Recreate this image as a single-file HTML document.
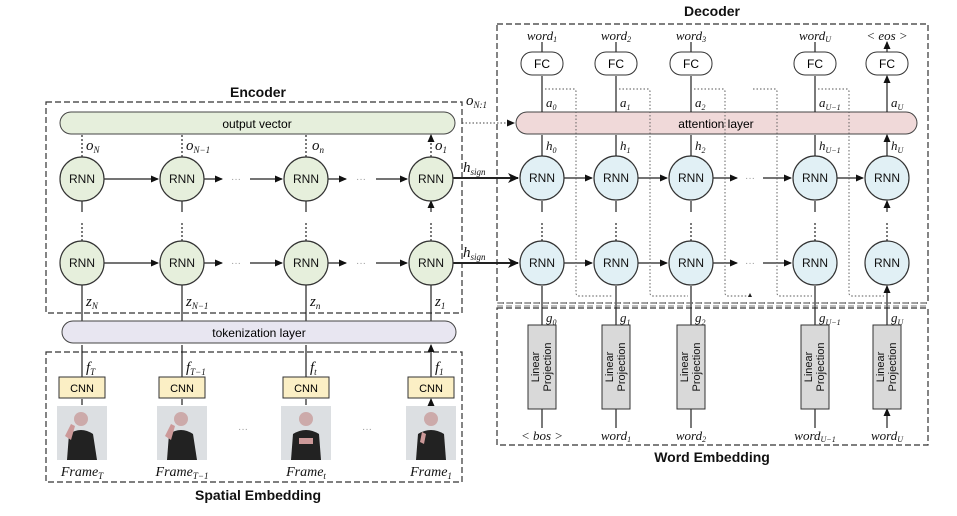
<!DOCTYPE html>
<html><head><meta charset="utf-8"><style>body{margin:0;background:#fff}</style></head><body>
<svg width="957" height="511" viewBox="0 0 957 511" xmlns="http://www.w3.org/2000/svg" font-family="Liberation Sans, sans-serif">
<defs>
<marker id="a" markerWidth="8" markerHeight="8" refX="7" refY="4" orient="auto" markerUnits="userSpaceOnUse"><path d="M0,0.5 L8,4 L0,7.5z" fill="#111"/></marker>
<marker id="b" markerWidth="12" markerHeight="12" refX="10" refY="6" orient="auto" markerUnits="userSpaceOnUse"><path d="M0,1 L11,6 L0,11 L3,6z" fill="#111"/></marker>
</defs>
<g fill="none" stroke="#333" stroke-dasharray="6,3" stroke-width="1.2">
<rect x="46" y="102" width="416" height="211"/>
<rect x="46" y="352" width="416" height="130"/>
<rect x="497" y="24" width="431" height="279"/>
<rect x="497" y="308" width="431" height="137"/>
</g>
<g font-weight="bold" font-size="14" text-anchor="middle" fill="#111">
<text x="258" y="97">Encoder</text><text x="712" y="16">Decoder</text>
<text x="712" y="462">Word Embedding</text><text x="258" y="500">Spatial Embedding</text>
</g>
<g stroke="#222" stroke-width="1.2">
<line x1="104" y1="179" x2="158" y2="179" marker-end="url(#a)"/>
<line x1="204" y1="179" x2="222" y2="179" marker-end="url(#a)"/>
<line x1="250" y1="179" x2="282" y2="179" marker-end="url(#a)"/>
<line x1="328" y1="179" x2="346" y2="179" marker-end="url(#a)"/>
<line x1="376" y1="179" x2="407" y2="179" marker-end="url(#a)"/>
<line x1="104" y1="263" x2="158" y2="263" marker-end="url(#a)"/>
<line x1="204" y1="263" x2="222" y2="263" marker-end="url(#a)"/>
<line x1="250" y1="263" x2="282" y2="263" marker-end="url(#a)"/>
<line x1="328" y1="263" x2="346" y2="263" marker-end="url(#a)"/>
<line x1="376" y1="263" x2="407" y2="263" marker-end="url(#a)"/>
<line x1="564" y1="178" x2="592" y2="178" marker-end="url(#a)"/>
<line x1="638" y1="178" x2="667" y2="178" marker-end="url(#a)"/>
<line x1="713" y1="178" x2="737" y2="178" marker-end="url(#a)"/>
<line x1="763" y1="178" x2="791" y2="178" marker-end="url(#a)"/>
<line x1="837" y1="178" x2="863" y2="178" marker-end="url(#a)"/>
<line x1="564" y1="263" x2="592" y2="263" marker-end="url(#a)"/>
<line x1="638" y1="263" x2="667" y2="263" marker-end="url(#a)"/>
<line x1="713" y1="263" x2="737" y2="263" marker-end="url(#a)"/>
<line x1="763" y1="263" x2="791" y2="263" marker-end="url(#a)"/>
<line x1="453" y1="178" x2="518" y2="178" stroke-width="2" marker-end="url(#b)"/>
<line x1="453" y1="263" x2="518" y2="263" stroke-width="2" marker-end="url(#b)"/>
</g>
<g font-size="10" fill="#999" text-anchor="middle"><text x="236" y="182">···</text><text x="361" y="182">···</text><text x="236" y="266">···</text><text x="361" y="266">···</text><text x="750" y="181">···</text><text x="750" y="266">···</text><text x="243" y="432">···</text><text x="367" y="432">···</text></g>
<g stroke="#222" stroke-width="1.2">
<path d="M82,321 V242 M182,321 V242 M306,321 V242 M431,321 V242" marker-end="url(#a)"/>
<path d="M82,377 V345 M182,377 V345 M306,377 V345 M431,377 V345" marker-end="url(#a)"/>
<path d="M82,405 V399 M182,405 V399 M306,405 V399 M431,405 V399" marker-end="url(#a)"/>
<path d="M82,241 V223 M182,241 V223 M306,241 V223 M431,241 V223" stroke-dasharray="2,2"/>
<path d="M82,212 V201 M182,212 V201 M306,212 V201 M431,212 V201" marker-end="url(#a)"/>
<path d="M82,157 V135 M182,157 V135 M306,157 V135 M431,157 V135" stroke-dasharray="2,2" marker-end="url(#a)"/>
</g>
<rect x="60" y="112" width="395" height="22" rx="11" fill="#e6efdc" stroke="#444"/>
<text x="257" y="128" font-size="12" text-anchor="middle">output vector</text>
<rect x="62" y="321" width="394" height="22" rx="11" fill="#e8e6f1" stroke="#444"/>
<text x="259" y="337" font-size="12" text-anchor="middle">tokenization layer</text>
<rect x="516" y="112" width="401" height="22" rx="11" fill="#f0d9d9" stroke="#444"/>
<text x="716" y="128" font-size="12" text-anchor="middle">attention layer</text>
<g fill="#e6efdc" stroke="#333" stroke-width="1.2">
<circle cx="82" cy="179" r="22"/><circle cx="182" cy="179" r="22"/><circle cx="306" cy="179" r="22"/><circle cx="431" cy="179" r="22"/>
<circle cx="82" cy="263" r="22"/><circle cx="182" cy="263" r="22"/><circle cx="306" cy="263" r="22"/><circle cx="431" cy="263" r="22"/>
</g>
<g fill="#e1f0f5" stroke="#333" stroke-width="1.2">
<circle cx="542" cy="178" r="22"/><circle cx="616" cy="178" r="22"/><circle cx="691" cy="178" r="22"/><circle cx="815" cy="178" r="22"/><circle cx="887" cy="178" r="22"/>
<circle cx="542" cy="263" r="22"/><circle cx="616" cy="263" r="22"/><circle cx="691" cy="263" r="22"/><circle cx="815" cy="263" r="22"/><circle cx="887" cy="263" r="22"/>
</g>
<g font-size="12" text-anchor="middle" fill="#111">
<text x="82" y="183">RNN</text><text x="182" y="183">RNN</text><text x="306" y="183">RNN</text><text x="431" y="183">RNN</text>
<text x="82" y="267">RNN</text><text x="182" y="267">RNN</text><text x="306" y="267">RNN</text><text x="431" y="267">RNN</text>
<text x="542" y="182">RNN</text><text x="616" y="182">RNN</text><text x="691" y="182">RNN</text><text x="815" y="182">RNN</text><text x="887" y="182">RNN</text>
<text x="542" y="267">RNN</text><text x="616" y="267">RNN</text><text x="691" y="267">RNN</text><text x="815" y="267">RNN</text><text x="887" y="267">RNN</text>
</g>
<g fill="#fbefc5" stroke="#333"><rect x="59" y="377" width="46" height="21"/><rect x="159" y="377" width="46" height="21"/><rect x="283" y="377" width="46" height="21"/><rect x="408" y="377" width="46" height="21"/></g>
<g font-size="11" text-anchor="middle"><text x="82" y="392">CNN</text><text x="182" y="392">CNN</text><text x="306" y="392">CNN</text><text x="431" y="392">CNN</text></g>
<g>
<g transform="translate(57,406)"><rect width="50" height="54" fill="#dcdfe2"/><circle cx="24" cy="13" r="7" fill="#caa"/><path d="M10,54 L12,28 Q24,20 36,28 L40,54z" fill="#222"/><path d="M8,30 L14,18 L18,20 L14,34z" fill="#c99"/></g>
<g transform="translate(157,406)"><rect width="50" height="54" fill="#dcdfe2"/><circle cx="24" cy="13" r="7" fill="#caa"/><path d="M10,54 L12,28 Q24,20 36,28 L40,54z" fill="#222"/><path d="M8,30 L14,18 L18,20 L14,34z" fill="#c99"/></g>
<g transform="translate(281,406)"><rect width="50" height="54" fill="#dcdfe2"/><circle cx="25" cy="13" r="7" fill="#caa"/><path d="M10,54 L12,28 Q25,20 38,28 L40,54z" fill="#222"/><rect x="18" y="32" width="14" height="6" fill="#c99"/></g>
<g transform="translate(406,406)"><rect width="50" height="54" fill="#dcdfe2"/><circle cx="25" cy="13" r="7" fill="#caa"/><path d="M10,54 L12,28 Q25,20 38,28 L40,54z" fill="#222"/><path d="M14,36 L16,26 L20,28 L18,38z" fill="#c99"/></g>
</g>
<g font-family="Liberation Serif, serif" font-style="italic" font-size="14" text-anchor="middle" fill="#111">
<text x="82" y="476">Frame<tspan font-size="9" dy="3">T</tspan></text>
<text x="182" y="476">Frame<tspan font-size="9" dy="3">T−1</tspan></text>
<text x="306" y="476">Frame<tspan font-size="9" dy="3">t</tspan></text>
<text x="431" y="476">Frame<tspan font-size="9" dy="3">1</tspan></text>
</g>
<g font-family="Liberation Serif, serif" font-style="italic" font-size="15" fill="#111">
<text x="86" y="372">f<tspan font-size="9" dy="3">T</tspan></text>
<text x="186" y="372">f<tspan font-size="9" dy="3">T−1</tspan></text>
<text x="310" y="372">f<tspan font-size="9" dy="3">t</tspan></text>
<text x="435" y="372">f<tspan font-size="9" dy="3">1</tspan></text>
<text x="86" y="306">z<tspan font-size="9" dy="3">N</tspan></text>
<text x="186" y="306">z<tspan font-size="9" dy="3">N−1</tspan></text>
<text x="310" y="306">z<tspan font-size="9" dy="3">n</tspan></text>
<text x="435" y="306">z<tspan font-size="9" dy="3">1</tspan></text>
<text x="86" y="150">o<tspan font-size="9" dy="3">N</tspan></text>
<text x="186" y="150">o<tspan font-size="9" dy="3">N−1</tspan></text>
<text x="312" y="150">o<tspan font-size="9" dy="3">n</tspan></text>
<text x="435" y="150">o<tspan font-size="9" dy="3">1</tspan></text>
<text x="463" y="172">h<tspan font-size="9" dy="3">sign</tspan></text>
<text x="463" y="257">h<tspan font-size="9" dy="3">sign</tspan></text>
<text x="466" y="105">o<tspan font-size="9" dy="3">N:1</tspan></text>
</g>
<line x1="462" y1="123" x2="514" y2="123" stroke="#444" stroke-dasharray="1.5,2" marker-end="url(#a)"/>
<g stroke="#222" stroke-width="1.2">
<path d="M542,156 V135 M616,156 V135 M691,156 V135 M815,156 V135 M887,156 V135" marker-end="url(#a)"/>
<path d="M542,112 V76 M616,112 V76 M691,112 V76 M815,112 V76 M887,112 V76" marker-end="url(#a)"/>
<path d="M542,52 V42 M616,52 V42 M691,52 V42 M815,52 V42 M887,52 V42" marker-end="url(#a)"/>
<path d="M542,241 V223 M616,241 V223 M691,241 V223 M815,241 V223 M887,241 V223" stroke-dasharray="2,2"/>
<path d="M542,212 V201 M616,212 V201 M691,212 V201 M815,212 V201 M887,212 V201" marker-end="url(#a)"/>
<path d="M542,325 V286 M616,325 V286 M691,325 V286 M815,325 V286 M887,325 V286" marker-end="url(#a)"/>
<path d="M542,428 V409 M616,428 V409 M691,428 V409 M815,428 V409 M887,428 V409" marker-end="url(#a)"/>
</g>
<g stroke="#777" stroke-width="0.9" fill="none">
<line x1="497" y1="303" x2="928" y2="303" stroke-dasharray="6,3"/>
<line x1="497" y1="306" x2="928" y2="306" stroke-dasharray="6,3"/>
</g>
<g stroke="#555" stroke-width="0.9" fill="none" stroke-dasharray="1.5,2">
<path d="M545,89 H574 Q576,89 576,92 V293 Q576,296 579,296 H613"/>
<path d="M619,89 H648 Q650,89 650,92 V293 Q650,296 653,296 H688"/>
<path d="M694,89 H723 Q725,89 725,92 V293 Q725,296 728,296 H750"/>
<path d="M753,89 H775 Q777,89 777,92 V293 Q777,296 780,296 H812"/>
<path d="M818,89 H847 Q849,89 849,92 V293 Q849,296 852,296 H884"/>
</g>
<path d="M750,293 l-2,4 h4z" fill="#222"/>
<g fill="#fff" stroke="#333"><rect x="521" y="52" width="42" height="23" rx="11"/><rect x="595" y="52" width="42" height="23" rx="11"/><rect x="670" y="52" width="42" height="23" rx="11"/><rect x="794" y="52" width="42" height="23" rx="11"/><rect x="866" y="52" width="42" height="23" rx="11"/></g>
<g font-size="12" text-anchor="middle"><text x="542" y="68">FC</text><text x="616" y="68">FC</text><text x="691" y="68">FC</text><text x="815" y="68">FC</text><text x="887" y="68">FC</text></g>
<g fill="#d9d9d9" stroke="#333"><rect x="528" y="325" width="28" height="84"/><rect x="602" y="325" width="28" height="84"/><rect x="677" y="325" width="28" height="84"/><rect x="801" y="325" width="28" height="84"/><rect x="873" y="325" width="28" height="84"/></g>
<g font-size="11" text-anchor="middle" fill="#111">
<text transform="translate(542,367) rotate(-90)"><tspan x="0" dy="-3">Linear</tspan><tspan x="0" dy="12">Projection</tspan></text>
<text transform="translate(616,367) rotate(-90)"><tspan x="0" dy="-3">Linear</tspan><tspan x="0" dy="12">Projection</tspan></text>
<text transform="translate(691,367) rotate(-90)"><tspan x="0" dy="-3">Linear</tspan><tspan x="0" dy="12">Projection</tspan></text>
<text transform="translate(815,367) rotate(-90)"><tspan x="0" dy="-3">Linear</tspan><tspan x="0" dy="12">Projection</tspan></text>
<text transform="translate(887,367) rotate(-90)"><tspan x="0" dy="-3">Linear</tspan><tspan x="0" dy="12">Projection</tspan></text>
</g>
<g font-family="Liberation Serif, serif" font-style="italic" font-size="13" fill="#111">
<g text-anchor="middle">
<text x="542" y="40">word<tspan font-size="8" dy="2">1</tspan></text>
<text x="616" y="40">word<tspan font-size="8" dy="2">2</tspan></text>
<text x="691" y="40">word<tspan font-size="8" dy="2">3</tspan></text>
<text x="815" y="40">word<tspan font-size="8" dy="2">U</tspan></text>
<text x="887" y="40">&lt; eos &gt;</text>
<text x="542" y="440">&lt; bos &gt;</text>
<text x="616" y="440">word<tspan font-size="8" dy="2">1</tspan></text>
<text x="691" y="440">word<tspan font-size="8" dy="2">2</tspan></text>
<text x="815" y="440">word<tspan font-size="8" dy="2">U−1</tspan></text>
<text x="887" y="440">word<tspan font-size="8" dy="2">U</tspan></text>
</g>
<text x="546" y="107">a<tspan font-size="8" dy="3">0</tspan></text>
<text x="620" y="107">a<tspan font-size="8" dy="3">1</tspan></text>
<text x="695" y="107">a<tspan font-size="8" dy="3">2</tspan></text>
<text x="819" y="107">a<tspan font-size="8" dy="3">U−1</tspan></text>
<text x="891" y="107">a<tspan font-size="8" dy="3">U</tspan></text>
<text x="546" y="150">h<tspan font-size="8" dy="3">0</tspan></text>
<text x="620" y="150">h<tspan font-size="8" dy="3">1</tspan></text>
<text x="695" y="150">h<tspan font-size="8" dy="3">2</tspan></text>
<text x="819" y="150">h<tspan font-size="8" dy="3">U−1</tspan></text>
<text x="891" y="150">h<tspan font-size="8" dy="3">U</tspan></text>
<text x="546" y="322">g<tspan font-size="8" dy="3">0</tspan></text>
<text x="620" y="322">g<tspan font-size="8" dy="3">1</tspan></text>
<text x="695" y="322">g<tspan font-size="8" dy="3">2</tspan></text>
<text x="819" y="322">g<tspan font-size="8" dy="3">U−1</tspan></text>
<text x="891" y="322">g<tspan font-size="8" dy="3">U</tspan></text>
</g>
</svg>
</body></html>
